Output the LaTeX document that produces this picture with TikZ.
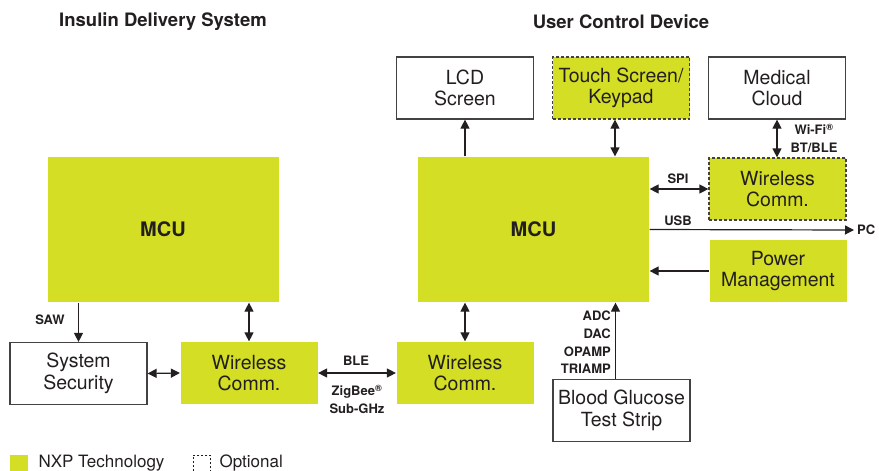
\documentclass[tikz,border=0pt]{standalone}
\usepackage{fontspec}
\setmainfont{TeX Gyre Heros}
\usetikzlibrary{positioning,arrows.meta}
\definecolor{nxpgreen}{RGB}{211,222,36}
\definecolor{inkgray}{RGB}{35,31,32}

\begin{document}
\begin{tikzpicture}[x=1pt, y=-1pt,
    every node/.style={text=inkgray},
    box/.style   ={rectangle, draw=inkgray!85, line width=1.2pt, fill=white, align=center,
                   minimum width=137pt, minimum height=62pt, inner sep=0pt,
                   font=\fontsize{19.5}{21.5}\selectfont},
    nxpbox/.style={box, draw=none, fill=nxpgreen},
    optbox/.style={box, fill=nxpgreen, dash pattern=on 3pt off 2pt},
    mcubox/.style={nxpbox, minimum width=231pt, minimum height=145pt,
                   font=\fontsize{20}{24}\selectfont\bfseries},
    title/.style ={font=\fontsize{18.5}{21}\selectfont\bfseries},
    lbl/.style   ={font=\fontsize{13}{17.7}\selectfont\bfseries, align=center, inner sep=0pt},
    arr/.style   ={-{Triangle[length=9pt,width=9pt]}, line width=1.2pt, draw=inkgray},
    dbl/.style   ={{Triangle[length=9pt,width=9pt]}-{Triangle[length=9pt,width=9pt]},
                   line width=1.2pt, draw=inkgray}]
    \useasboundingbox (0,0) rectangle (879,471);

    % headings
    \node[title] (idsT) at (163,22) {Insulin Delivery System};
    \node[title] (ucdT) at (621,22) {User Control Device};

    % insulin delivery system
    \node[mcubox] (mcuL) at (163,229.5) {MCU};
    \node[box]    (sec)  at (78.5,373.5) {System\\Security};
    \node[nxpbox] (wlL)  at (249,373) {Wireless\\Comm.};

    % user control device
    \node[mcubox] (mcuR)  at (533.5,229.5) {MCU};
    \node[nxpbox] (wlB)   at (465,373) {Wireless\\Comm.};
    \node[box]    (lcd)   at (465,88) {LCD\\Screen};
    \node[optbox] (touch) at (621,88) {Touch Screen/\\Keypad};
    \node[box]    (cloud) at (777,88) {Medical\\Cloud};
    \node[optbox] (wlR)   at (777.5,189) {Wireless\\Comm.};
    \node[nxpbox] (pwr)   at (778,271) {Power\\Management};
    \node[box]    (bgs)   at (621.5,410.5) {Blood Glucose\\Test Strip};
    \node[font=\fontsize{13}{14}\selectfont\bfseries, anchor=west, inner sep=0pt] (pc) at (857,230) {PC};

    % connectors
    \draw[arr] (sec.north |- mcuL.south) -- (sec.north);
    \node[lbl] (sawL) at (50,320) {SAW};
    \draw[dbl] (wlL.north |- mcuL.south) -- (wlL.north);
    \draw[dbl] (sec.east) -- (wlL.west);
    \draw[dbl] (wlL.east) -- (wlB.west);
    \node[lbl] (bleL) at (356,361) {BLE};
    \node[lbl] (zigL) at (357,399) {ZigBee\textsuperscript{®}\\Sub-GHz};
    \draw[dbl] (wlB.north |- mcuR.south) -- (wlB.north);
    \draw[arr] (lcd.south |- mcuR.north) -- (lcd.south);
    \draw[dbl] ([xshift=-6pt]touch.south) -- ([xshift=-6pt]touch.south |- mcuR.north);
    \draw[dbl] (cloud.south) -- (wlR.north -| cloud.south);
    \node[lbl] (wifiL) at (814,138) {Wi-Fi\textsuperscript{®}\\BT/BLE};
    \draw[dbl] (wlR.west -| mcuR.east) -- (wlR.west);
    \node[lbl] (spiL) at (678,179) {SPI};
    \draw[arr] (mcuR.east) -- ([xshift=-3pt]pc.west);
    \node[lbl] (usbL) at (678,221) {USB};
    \draw[arr] (pwr.west) -- (pwr.west -| mcuR.east);
    \draw[arr] ([xshift=-6pt]bgs.north) -- ([xshift=-6pt]bgs.north |- mcuR.south);
    \node[lbl, align=right, anchor=east] (adcL) at (611,342.5) {ADC\\DAC\\OPAMP\\TRIAMP};

    % legend
    \node[rectangle, fill=nxpgreen, minimum width=18pt, minimum height=20pt, inner sep=0pt,
          anchor=north west] (keyNxp) at (10,455) {};
    \node[anchor=west, font=\fontsize{17}{20}\selectfont] (keyNxpT) at (35,463) {NXP Technology};
    \node[rectangle, draw=inkgray, line width=0.8pt, dash pattern=on 2pt off 2pt,
          minimum width=17pt, minimum height=20pt, inner sep=0pt,
          anchor=north west] (keyOpt) at (193,455) {};
    \node[anchor=west, font=\fontsize{17}{20}\selectfont] (keyOptT) at (216,463) {Optional};
\end{tikzpicture}
\end{document}
